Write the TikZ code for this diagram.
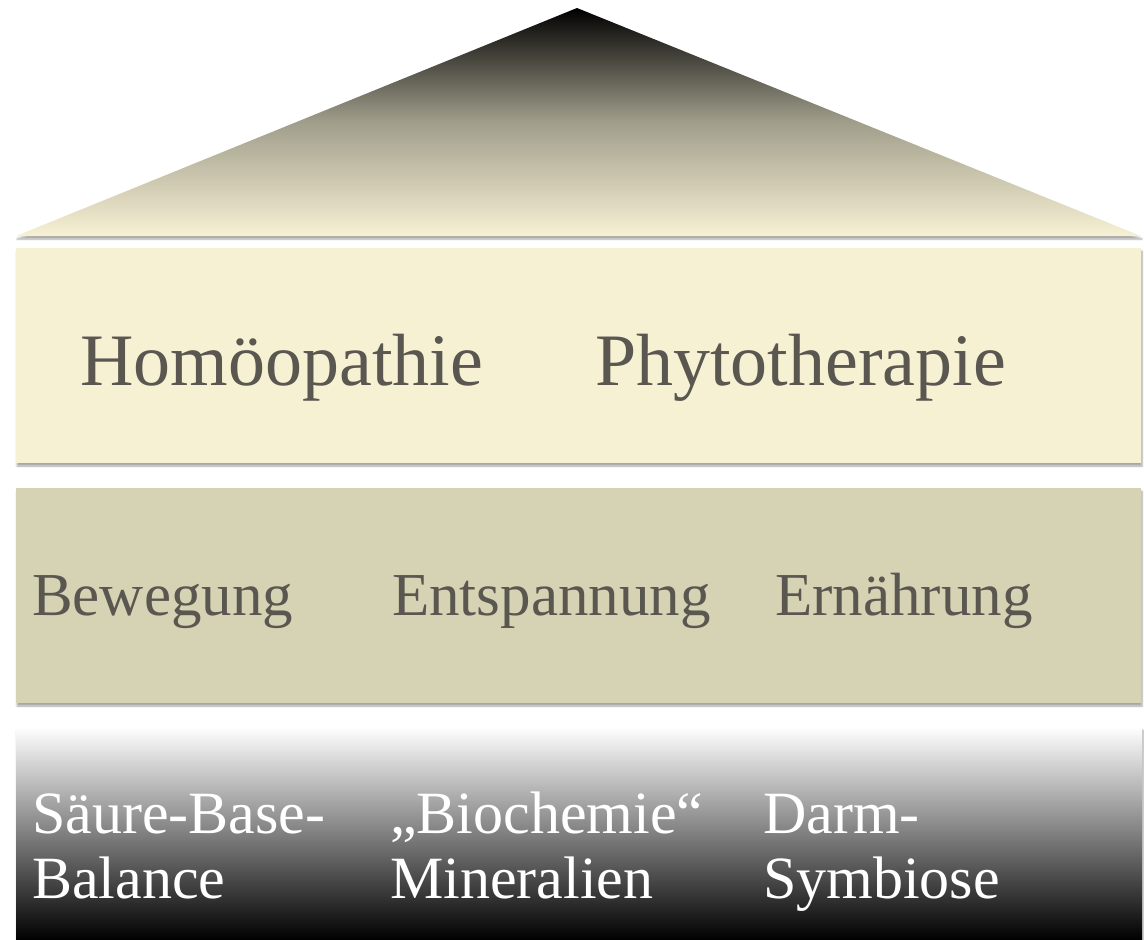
\documentclass[tikz,border=0pt]{standalone}
\usepackage{fontspec}
\setmainfont{Liberation Serif}
\usetikzlibrary{shadows.blur}
\definecolor{cream}{HTML}{F7F1D4}
\definecolor{olive}{HTML}{D6D2B4}
\definecolor{txt}{HTML}{5A5750}
\tikzset{
  band/.style={draw=none, blur shadow={shadow xshift=1pt, shadow yshift=-3pt, shadow blur steps=6, shadow opacity=35}},
  lbl/.style={anchor=base west, inner sep=0pt, text=txt},
  wlbl/.style={anchor=base west, inner sep=0pt, text=white, align=left},
}
\begin{document}
\begin{tikzpicture}[x=1pt,y=-1pt]
\useasboundingbox (0,0) rectangle (1144,940);
% roof
\path[band, top color=black, bottom color=cream, middle color=olive!70!black!90]
  (577,8) coordinate (apex) -- (1141,236) coordinate (br) -- (16,236) coordinate (bl) -- cycle;
% bands
\path[band, fill=cream] (16,248) rectangle (1141,463);
\path[band, fill=olive] (16,488) rectangle (1141,703);
\path[band, top color=white, bottom color=black] (16,727) rectangle (1142,940);
% texts
\node[lbl, font=\fontsize{74}{74}\selectfont] (hom) at (80,385) {Homöopathie};
\node[lbl, font=\fontsize{74}{74}\selectfont] (phy) at (595,385) {Phytotherapie};
\node[lbl, font=\fontsize{61}{61}\selectfont] (bew) at (32,615) {Bewegung};
\node[lbl, font=\fontsize{61}{61}\selectfont] (ent) at (392,615) {Entspannung};
\node[lbl, font=\fontsize{61}{61}\selectfont] (ern) at (775,615) {Ernährung};
\node[wlbl, font=\fontsize{60}{65}\selectfont] (sbb) at (32,898) {Säure-Base-\\Balance};
\node[wlbl, font=\fontsize{60}{65}\selectfont] (bio) at (390,898) {„Biochemie“\\Mineralien};
\node[wlbl, font=\fontsize{60}{65}\selectfont] (dar) at (763,898) {Darm-\\Symbiose};
\end{tikzpicture}
\end{document}
